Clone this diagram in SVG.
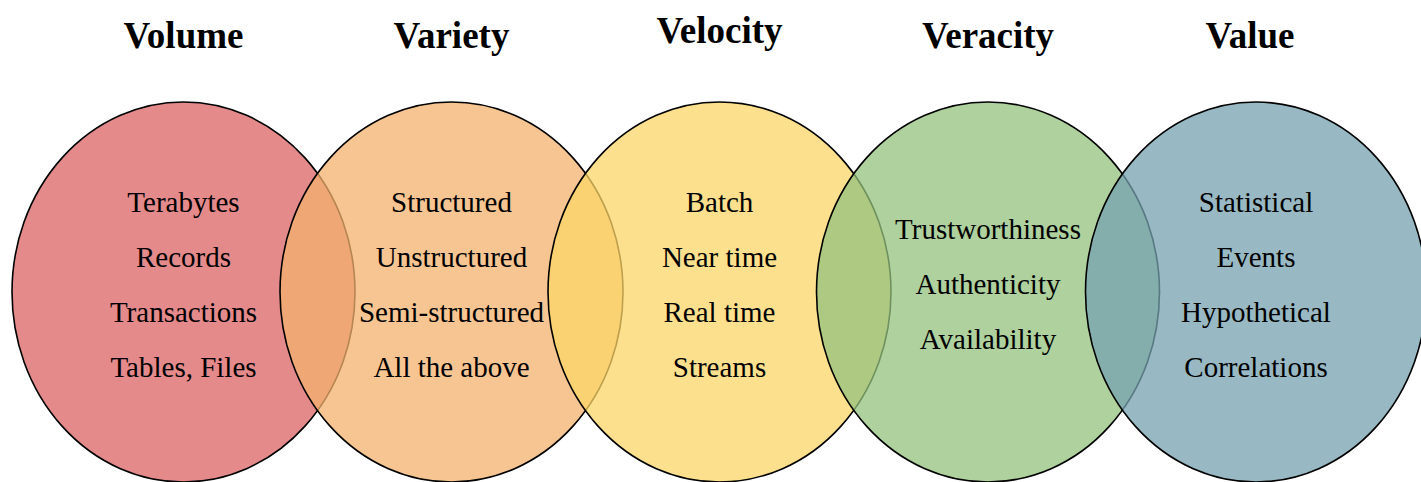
<svg xmlns="http://www.w3.org/2000/svg" width="1421" height="482" viewBox="0 0 1421 482">
<style>
.c{stroke:#000;stroke-width:1.6;fill-opacity:0.75}
.t{font-family:"Liberation Serif","Times New Roman",serif;font-size:37px;font-weight:bold;text-anchor:middle;fill:#000}
.l{font-family:"Liberation Serif","Times New Roman",serif;font-size:29px;text-anchor:middle;fill:#000}
</style>
<rect width="1421" height="482" fill="#fff"/>
<g id="volume">
<ellipse class="c" cx="183.5" cy="292" rx="171.5" ry="190" fill="#db6364"/>
</g>
<g id="variety">
<ellipse class="c" cx="451.5" cy="292" rx="171.5" ry="190" fill="#f3b26e"/>
</g>
<g id="velocity">
<ellipse class="c" cx="719.5" cy="292" rx="171.5" ry="190" fill="#fcd667"/>
</g>
<g id="veracity">
<ellipse class="c" cx="988" cy="292" rx="171.5" ry="190" fill="#93c27e"/>
</g>
<g id="value">
<ellipse class="c" cx="1256" cy="292" rx="170.5" ry="190" fill="#76a2af"/>
</g>
<g id="connectors"></g>
<g id="labels">
<text class="t" x="183.5" y="48">Volume</text>
<text class="t" x="451.5" y="48">Variety</text>
<text class="t" x="719.5" y="43">Velocity</text>
<text class="t" x="988" y="48">Veracity</text>
<text class="t" x="1250" y="48">Value</text>
<text class="l" x="183.5" y="212">Terabytes</text>
<text class="l" x="183.5" y="267">Records</text>
<text class="l" x="183.5" y="322">Transactions</text>
<text class="l" x="183.5" y="377">Tables, Files</text>
<text class="l" x="451.5" y="212">Structured</text>
<text class="l" x="451.5" y="267">Unstructured</text>
<text class="l" x="451.5" y="322">Semi-structured</text>
<text class="l" x="451.5" y="377">All the above</text>
<text class="l" x="719.5" y="212">Batch</text>
<text class="l" x="719.5" y="267">Near time</text>
<text class="l" x="719.5" y="322">Real time</text>
<text class="l" x="719.5" y="377">Streams</text>
<text class="l" x="988" y="239">Trustworthiness</text>
<text class="l" x="988" y="294">Authenticity</text>
<text class="l" x="988" y="349">Availability</text>
<text class="l" x="1256" y="212">Statistical</text>
<text class="l" x="1256" y="267">Events</text>
<text class="l" x="1256" y="322">Hypothetical</text>
<text class="l" x="1256" y="377">Correlations</text>
</g>
</svg>
